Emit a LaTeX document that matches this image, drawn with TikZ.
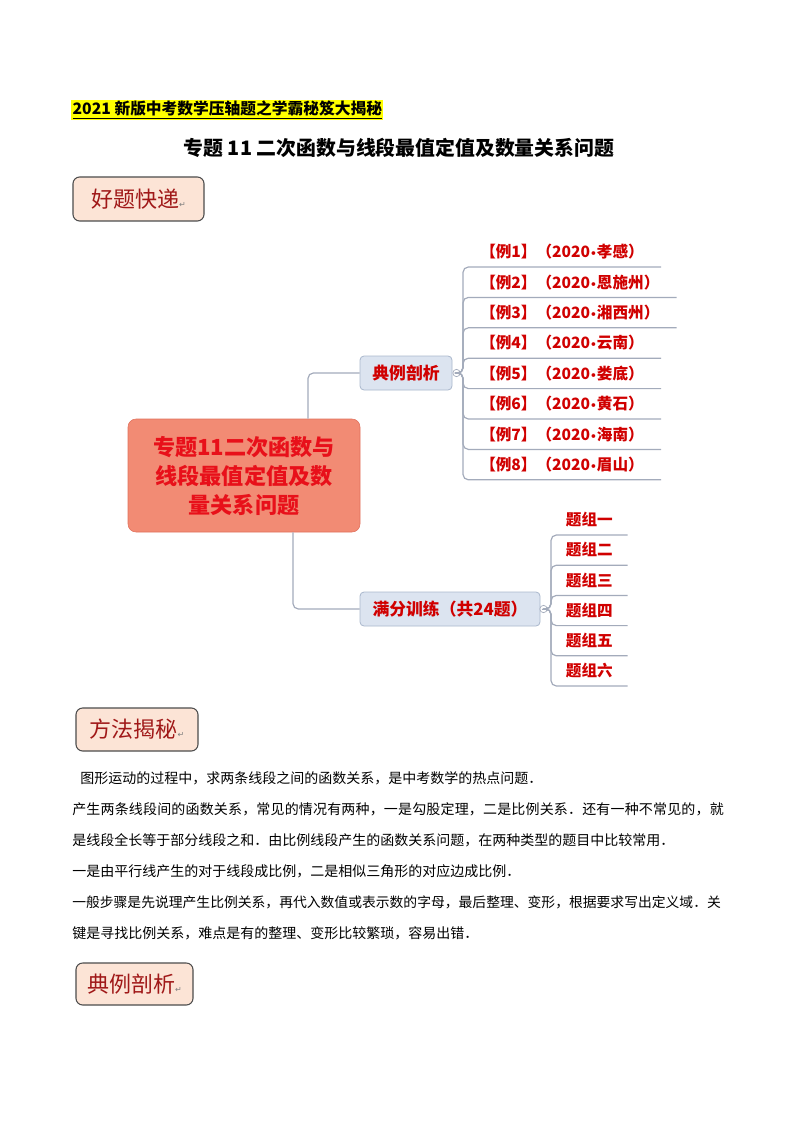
\documentclass[tikz,border=0pt]{standalone}
\usepackage{fontspec}
\setmainfont{Noto Sans CJK SC}
\newfontfamily\symfont{DejaVu Sans}
\newfontfamily\widefont[LetterSpace=1.2]{Noto Sans CJK SC}

\definecolor{topicfill}{HTML}{F28B74}
\definecolor{topicline}{HTML}{E0705C}
\definecolor{topictext}{HTML}{E8101A}
\definecolor{branchfill}{HTML}{DCE4F0}
\definecolor{branchline}{HTML}{A9B7CC}
\definecolor{leaftext}{HTML}{D00000}
\definecolor{connline}{HTML}{A3ABBB}
\definecolor{tagfill}{HTML}{FCE4D6}
\definecolor{tagtext}{HTML}{A01818}
\definecolor{hlyellow}{HTML}{FFFF00}

\newcommand{\retmark}{{\symfont\color{gray}\fontsize{6}{7}\selectfont ↵}}
\newcommand{\yeardot}{{\symfont\fontsize{8}{9}\selectfont •}}

\tikzset{
  topic/.style={rectangle, rounded corners=6pt, fill=topicfill, draw=topicline,
    text=topictext, font=\fontsize{16.6}{21.75}\selectfont\bfseries, align=center,
    minimum width=174pt, minimum height=84.75pt},
  branch/.style={rectangle, rounded corners=3pt, fill=branchfill, draw=branchline,
    line width=0.6pt, text=leaftext, font=\fontsize{12.6}{15}\selectfont\bfseries,
    minimum height=25.5pt},
  leaf/.style={anchor=south west, inner xsep=12.75pt, inner ysep=0pt,
    minimum height=22.5pt, text=leaftext, font=\fontsize{11.7}{13}\selectfont\bfseries},
  conn/.style={draw=connline, line width=0.9pt, rounded corners=4pt},
  fold/.style={circle, draw=connline, fill=white, line width=0.5pt, inner sep=0pt,
    minimum size=5.5pt, path picture={\draw[connline, line width=0.4pt]
      ([xshift=-1.5pt]path picture bounding box.center) --
      ([xshift=1.5pt]path picture bounding box.center);}},
  tagbox/.style={rectangle, rounded corners=5pt, draw=black!70, line width=0.8pt,
    fill=tagfill, text=tagtext, font=\fontsize{16.5}{18}\selectfont},
  bodyline/.style={anchor=west, inner sep=0pt, font=\fontsize{10.5}{12}\selectfont}
}

\begin{document}
\begin{tikzpicture}[x=0.75pt, y=-0.75pt]
\useasboundingbox (0,0) rectangle (794,1123);

% --- page heading ---
\node[fill=hlyellow, inner xsep=1pt, inner ysep=1pt, anchor=west,
  font=\fontsize{11.8}{13}\selectfont\bfseries] (series) at (71,110)
  {\underline{2021 新版中考数学压轴题之学霸秘笈大揭秘}};
\node[font=\fontsize{14.9}{17}\selectfont\bfseries] (title) at (399,148)
  {专题 11 二次函数与线段最值定值及数量关系问题};

\node[tagbox, minimum width=98.25pt, minimum height=33pt] (tag1) at (138.5,199) {好题快递\retmark};

% --- mind map ---
\node[topic] (topic) at (244,475.5) {专题11二次函数与\\线段最值定值及数\\量关系问题};

\node[branch, minimum width=69pt] (branch1) at (406,373) {典例剖析};
\node[branch, minimum width=135pt] (branch2) at (450,609) {满分训练（共24题）};

\node[fold] (fold1) at (456.5,373) {};
\node[fold] (fold2) at (543.5,609) {};

\draw[conn] ([xshift=48pt]topic.north) |- (branch1.west);
\draw[conn] ([xshift=36.75pt]topic.south) |- (branch2.west);

% examples
\foreach \i/\place in {1/孝感, 2/恩施州, 3/湘西州, 4/云南, 5/娄底, 6/黄石, 7/海南, 8/眉山} {
  \pgfmathsetmacro{\ly}{267 + (\i-1)*30.4}
  \node[leaf] (ex\i) at (463,\ly) {【例\i】（2020\yeardot\place）};
  \draw[conn] (fold1.east) -| (ex\i.south west) -- (ex\i.south east);
}

% training groups
\foreach \j/\grp in {1/一, 2/二, 3/三, 4/四, 5/五, 6/六} {
  \pgfmathsetmacro{\ly}{535 + (\j-1)*30.2}
  \node[leaf, inner xsep=11pt] (grp\j) at (551,\ly) {题组\grp};
  \draw[conn] (fold2.east) -| (grp\j.south west) -- (grp\j.south east);
}

% --- method section ---
\node[tagbox, minimum width=91.5pt, minimum height=32.25pt] (tag2) at (137,729.5) {方法揭秘\retmark};

\node[bodyline] (para1) at (80,778) {图形运动的过程中，求两条线段之间的函数关系，是中考数学的热点问题．};
\node[bodyline, font=\fontsize{10.5}{12}\widefont] (para2) at (72,809) {产生两条线段间的函数关系，常见的情况有两种，一是勾股定理，二是比例关系．还有一种不常见的，就};
\node[bodyline] (para3) at (72,840) {是线段全长等于部分线段之和．由比例线段产生的函数关系问题，在两种类型的题目中比较常用．};
\node[bodyline] (para4) at (72,871) {一是由平行线产生的对于线段成比例，二是相似三角形的对应边成比例．};
\node[bodyline, font=\fontsize{10.35}{12}\selectfont] (para5) at (72,902) {一般步骤是先说理产生比例关系，再代入数值或表示数的字母，最后整理、变形，根据要求写出定义域．关};
\node[bodyline] (para6) at (72,933) {键是寻找比例关系，难点是有的整理、变形比较繁琐，容易出错．};

\node[tagbox, minimum width=87.75pt, minimum height=31.5pt] (tag3) at (134.5,984) {典例剖析\retmark};

\end{tikzpicture}
\end{document}
